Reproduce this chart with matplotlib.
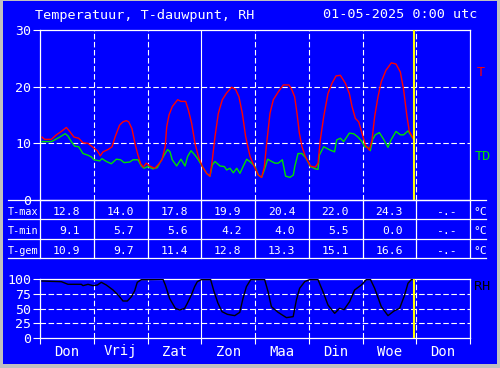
import matplotlib.pyplot as plt
from matplotlib.patches import Rectangle
from matplotlib.transforms import blended_transform_factory

plt.rcParams['font.family'] = ['DejaVu Sans Mono', 'DejaVu Sans']
plt.rcParams['lines.scale_dashes'] = False

# ── DATA ─────────────────────────────────────────────────────
# x = days since start of the chart (Don 00:00)
t_days = [0.037, 0.087, 0.211, 0.304, 0.397, 0.49, 0.552, 0.633, 0.719, 0.80,
          0.893, 0.986, 1.067, 1.122, 1.172, 1.265, 1.34, 1.40, 1.48, 1.544,
          1.606, 1.65, 1.71, 1.774, 1.823, 1.873, 1.922, 1.978, 2.04, 2.133,
          2.195, 2.27, 2.33, 2.357, 2.40, 2.462, 2.561, 2.623, 2.71, 2.76,
          2.822, 2.884, 2.946, 3.02, 3.10, 3.163, 3.206, 3.256, 3.318, 3.392,
          3.473, 3.566, 3.64, 3.702, 3.764, 3.826, 3.907, 3.988, 4.062, 4.124,
          4.174, 4.217, 4.279, 4.341, 4.434, 4.527, 4.633, 4.688, 4.738, 4.781,
          4.825, 4.874, 4.936, 5.03, 5.122, 5.172, 5.215, 5.278, 5.358, 5.433,
          5.507, 5.588, 5.681, 5.755, 5.805, 5.867, 5.929, 5.991, 6.053, 6.127,
          6.177, 6.226, 6.288, 6.35, 6.437, 6.536, 6.623, 6.704, 6.766, 6.828,
          6.871, 6.908, 6.952]
temp = [11.1, 10.7, 10.7, 11.5, 12.1, 12.8, 12.1, 11.1, 10.9, 10.1,
        10.0, 9.3, 8.7, 7.8, 8.5, 8.9, 9.4, 11.2, 13.2, 13.8,
        14.0, 13.8, 12.6, 9.7, 7.9, 6.4, 5.8, 6.5, 6.0, 5.6,
        6.2, 7.1, 9.5, 12.9, 15.0, 16.5, 17.7, 17.4, 17.4, 15.9,
        13.5, 10.0, 7.7, 5.9, 4.7, 4.2, 7.1, 11.2, 15.3, 17.7,
        18.9, 19.9, 19.5, 18.2, 15.3, 11.2, 7.7, 5.9, 4.4, 4.0,
        5.9, 10.0, 15.3, 17.7, 19.1, 20.3, 20.3, 19.4, 18.2, 15.3,
        11.8, 9.4, 7.7, 6.0, 5.8, 6.5, 10.6, 14.7, 18.8, 20.6,
        21.9, 22.0, 20.6, 18.8, 16.5, 14.4, 13.8, 11.8, 9.7, 8.8,
        10.6, 14.7, 18.2, 20.9, 22.9, 24.2, 24.0, 22.6, 19.4, 14.7,
        12.1, 11.5, 10.7]

td_days = [0.037, 0.211, 0.273, 0.366, 0.47, 0.52, 0.583, 0.645, 0.719, 0.80,
           0.893, 0.955, 1.005, 1.11, 1.153, 1.234, 1.327, 1.42, 1.50, 1.563,
           1.668, 1.73, 1.823, 1.885, 1.935, 2.009, 2.10, 2.18, 2.27, 2.326,
           2.375, 2.419, 2.46, 2.543, 2.623, 2.698, 2.747, 2.81, 2.884, 2.946,
           3.02, 3.10, 3.163, 3.206, 3.256, 3.349, 3.43, 3.473, 3.535, 3.597,
           3.66, 3.72, 3.783, 3.845, 3.926, 4.0, 4.062, 4.124, 4.174, 4.236,
           4.31, 4.372, 4.434, 4.508, 4.57, 4.651, 4.713, 4.74, 4.80, 4.874,
           4.948, 5.03, 5.122, 5.172, 5.197, 5.278, 5.34, 5.40, 5.48, 5.52,
           5.588, 5.65, 5.755, 5.836, 5.917, 5.991, 6.04, 6.10, 6.145, 6.19,
           6.238, 6.313, 6.394, 6.474, 6.536, 6.623, 6.704, 6.766, 6.847, 6.908,
           6.952]
dewpoint = [10.3, 10.3, 10.6, 11.1, 11.7, 11.3, 10.3, 9.5, 9.4, 8.2,
            7.9, 7.6, 7.1, 6.9, 7.3, 6.8, 6.4, 7.2, 7.1, 6.6,
            6.7, 7.1, 7.1, 6.0, 5.6, 5.9, 5.5, 5.7, 7.2, 8.2,
            8.9, 8.5, 7.1, 6.0, 7.2, 6.0, 7.7, 8.7, 7.9, 7.1,
            5.9, 4.7, 4.2, 6.2, 6.8, 6.0, 5.9, 5.3, 5.6, 4.8,
            5.6, 4.7, 6.0, 7.2, 6.6, 5.9, 4.4, 4.0, 5.3, 7.2,
            6.8, 6.5, 6.5, 7.1, 4.2, 4.0, 4.4, 5.9, 8.2, 8.2,
            7.4, 5.9, 5.5, 5.4, 7.9, 9.4, 9.1, 8.8, 8.5, 10.6,
            10.9, 10.3, 11.8, 11.7, 11.1, 10.3, 9.4, 9.3, 8.7, 10.7,
            11.5, 11.9, 10.7, 9.3, 10.7, 12.1, 11.5, 11.5, 12.2, 11.3,
            10.7]

rh_days = [0.037, 0.211, 0.397, 0.52, 0.769, 0.80, 0.893, 0.986, 1.067, 1.141,
           1.234, 1.358, 1.464, 1.544, 1.625, 1.70, 1.76, 1.81, 1.885, 2.009,
           2.288, 2.332, 2.412, 2.518, 2.60, 2.691, 2.741, 2.815, 2.877, 2.927,
           3.002, 3.175, 3.238, 3.312, 3.387, 3.486, 3.623, 3.716, 3.777, 3.84,
           3.92, 4.18, 4.243, 4.305, 4.43, 4.585, 4.71, 4.77, 4.83, 4.925,
           5.017, 5.172, 5.265, 5.358, 5.482, 5.575, 5.656, 5.76, 5.853, 5.978,
           6.07, 6.15, 6.226, 6.35, 6.474, 6.586, 6.691, 6.784, 6.846, 6.908,
           6.958]
rh = [96.6, 96.0, 95.5, 91.0, 91.0, 88.7, 91.0, 88.7, 89.8, 94.4,
      89.8, 81.4, 71.8, 62.7, 62.7, 70.0, 79.7, 94.4, 98.9, 98.9,
      99.5, 89.8, 67.0, 50.3, 47.5, 50.3, 58.8, 72.9, 87.0, 95.5,
      98.9, 98.9, 78.5, 58.8, 44.6, 40.1, 37.9, 43.5, 67.2, 87.0,
      98.9, 98.9, 78.5, 53.1, 43.5, 34.5, 36.2, 64.4, 84.2, 95.5,
      98.9, 98.9, 78.5, 55.9, 41.8, 50.3, 48.0, 61.6, 81.4, 89.8,
      98.9, 98.9, 84.2, 53.1, 37.9, 45.8, 50.3, 72.9, 92.7, 98.9,
      98.9]

day_names = ['Don', 'Vrij', 'Zat', 'Zon', 'Maa', 'Din', 'Woe', 'Don']
t_max = [12.8, 14.0, 17.8, 19.9, 20.4, 22.0, 24.3, None]
t_min = [9.1, 5.7, 5.6, 4.2, 4.0, 5.5, 0.0, None]
t_gem = [10.9, 9.7, 11.4, 12.8, 13.3, 15.1, 16.6, None]
now_day = 6.958   # 01-05-2025 0:00 utc

# ── LAYOUT (pixels) ──────────────────────────────────────────
W, H = 500, 368
BLUE = '#0000ff'
DASH = (4, 1.8)


def fx(x):
    return x / W


def fy(y):
    return 1 - y / H


fig = plt.figure(figsize=(5, 3.68), dpi=100, facecolor='#c0c0c0')
fig.add_artist(Rectangle((fx(3), fy(364)), 494 / W, 363 / H,
                         facecolor=BLUE, edgecolor='none', zorder=0))


def setup(ax, ylim, yticks, hgrid):
    ax.set_facecolor(BLUE)
    ax.set_xlim(0, 8)
    ax.set_ylim(*ylim)
    for s in ax.spines.values():
        s.set_color('white')
        s.set_linewidth(0.9)
    ax.set_yticks(yticks)
    ax.tick_params(axis='y', colors='white', length=4.8, width=0.8,
                   pad=1.5, labelsize=9.5)
    for v in hgrid:
        ax.axhline(v, color='white', lw=0.8, dashes=DASH, zorder=1)
    for d in range(1, 8):
        if d == 3:
            ax.axvline(d, color='white', lw=0.8, zorder=1)
        else:
            ax.axvline(d, color='white', lw=0.8, dashes=DASH, zorder=1)
    ax.axvline(now_day, color='#ffff00', lw=1.5, zorder=4)


# main temperature panel
ax = fig.add_axes([fx(40), fy(200), 430 / W, 170 / H])
setup(ax, (0, 30), [0, 10, 20, 30], [10, 20])
ax.set_xticks([])
ax.plot(td_days, dewpoint, color='#00e000', lw=1.0, zorder=3)
ax.plot(t_days, temp, color='#ff0000', lw=1.0, zorder=3)

# table with daily values
tab = fig.add_axes([fx(40), fy(258.3), 430 / W, 58.3 / H])
tab.set_xlim(0, 8)
tab.set_ylim(3, 0)
tab.axis('off')
for r in range(4):
    tab.plot([-0.595, 8.298], [r, r], color='white', lw=0.9, clip_on=False)
for d in range(9):
    tab.plot([d, d], [0, 3], color='white', lw=0.9, clip_on=False)
for r, (name, vals) in enumerate([('T-max', t_max), ('T-min', t_min),
                                  ('T-gem', t_gem)]):
    y = r + 0.6
    tab.text(-0.595, y, name, color='white', fontsize=7.3, va='center',
             ha='left', clip_on=False)
    for d, v in enumerate(vals):
        s = '-.-' if v is None else f'{v:.1f}'
        tab.text(d + 0.75, y, s, color='white', fontsize=8.2, va='center',
                 ha='right')
    tab.text(8.06, y, '°C', color='white', fontsize=8.2, va='center',
             ha='left', clip_on=False)

# relative humidity panel
ax2 = fig.add_axes([fx(40), fy(338), 430 / W, 59 / H])
setup(ax2, (0, 100), [0, 25, 50, 75, 100], [25, 50, 75])
ax2.set_xticks(range(9))
ax2.set_xticklabels([])
ax2.tick_params(axis='x', colors='white', length=4.3, width=0.8,
                direction='out')
ax2.plot(rh_days, rh, color='black', lw=1.0, zorder=3)
tr = blended_transform_factory(ax2.transData, fig.transFigure)
for d, name in enumerate(day_names):
    ax2.text(d + 0.5, fy(351.5), name, transform=tr, color='white',
             fontsize=10, ha='center', va='center')

# titles and series labels
fig.text(fx(35), fy(15), 'Temperatuur, T-dauwpunt, RH', color='white',
         fontsize=9.7, ha='left', va='center')
fig.text(fx(477), fy(15), '01-05-2025 0:00 utc', color='white',
         fontsize=9.7, ha='right', va='center')
fig.text(fx(477), fy(72), 'T', color='#ff0000', fontsize=9.7, va='center')
fig.text(fx(475), fy(156), 'TD', color='#00e000', fontsize=9.7, va='center')
fig.text(fx(474), fy(286), 'RH', color='black', fontsize=9.7, va='center')

fig.savefig('out.png', dpi=100, facecolor=fig.get_facecolor())
